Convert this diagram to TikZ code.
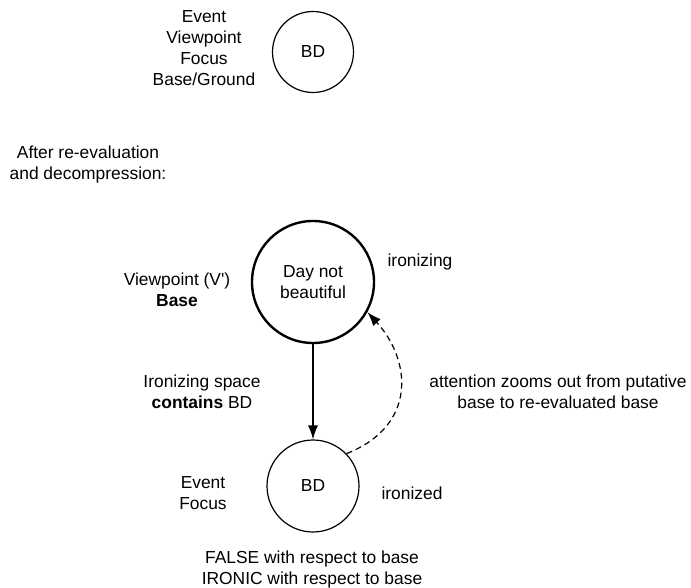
\documentclass[tikz,border=0pt]{standalone}
\usepackage{fontspec}
\setmainfont{Liberation Sans}
\usetikzlibrary{arrows.meta}

\begin{document}
\begin{tikzpicture}[x=1pt,y=-1pt,
    >={Latex[length=14pt,width=10pt]},
    txt/.style={align=center,inner sep=0pt,font=\fontsize{17.4}{21}\selectfont},
    space/.style={circle,draw,line width=1.2pt,inner sep=0pt},
    base space/.style={space,line width=2.4pt},
    link/.style={line width=1.2pt}]
  \useasboundingbox (0,0) rectangle (691,588);
  % Input space
  \node[space,minimum size=81pt] (bd0) at (313,52) {};
  \node[txt] at (bd0) {BD};
  \node[txt] (roles0) at (204,48) {Event\\Viewpoint\\Focus\\Base/Ground};
  % Heading
  \node[txt] (head) at (88,165) {After re-evaluation\\and decompression:};
  % Base space
  \node[base space,minimum size=122pt] (day) at (313,282) {};
  \node[txt] (daytxt) at (313,282) {Day not\\beautiful};
  \node[txt] (rolesV) at (177,290) {Viewpoint (V\textquotesingle)\\\textbf{Base}};
  \node[txt] (izing) at (420,262) {ironizing};
  % Ironized space
  \node[space,minimum size=92pt] (bd) at (313,486) {};
  \node[txt] (bdtxt) at (313,486) {BD};
  \node[txt] (rolesE) at (203,493) {Event\\Focus};
  \node[txt] (ized) at (412,493) {ironized};
  \node[txt] (verdict) at (312,569) {FALSE with respect to base\\IRONIC with respect to base};
  % Connectors
  \draw[link,->] (day.south) -- (bd.north);
  \node[txt] (contains) at (202,392) {Ironizing space\\\textbf{contains} BD};
  \draw[link,->,dash pattern=on 6pt off 4pt] (bd.44) .. controls +(71,-28) and +(44,48) .. (day.-29);
  \node[txt] (zoom) at (558,392) {attention zooms out from putative\\base to re-evaluated base};
\end{tikzpicture}
\end{document}
